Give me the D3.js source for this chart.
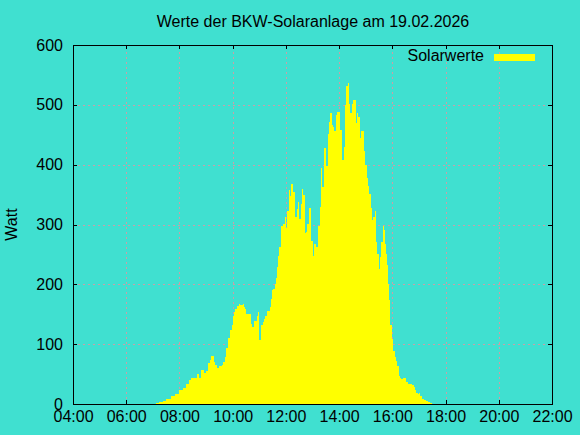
<!DOCTYPE html>
<html>
<head>
<meta charset="utf-8">
<script src="https://cdn.jsdelivr.net/npm/d3@7"></script>
<style>
  body { margin: 0; background: #40e0d0; }
  svg { display: block; font-family: "Liberation Sans", Arial, sans-serif; }
</style>
</head>
<body>
<div id="chart"></div>
<script>
// Messzeitpunkte und Leistung (Watt)
const times = ["07:07","07:15","07:22","07:30","07:42","07:51","07:58","08:07","08:15","08:22",
    "08:26","08:39","08:43","08:49","08:55","08:59","09:04","09:08","09:12","09:17",
    "09:20","09:25","09:30","09:36","09:39","09:43","09:45","09:50","09:55","09:59",
    "10:01","10:03","10:06","10:09","10:15","10:17","10:23","10:25","10:27","10:30",
    "10:41","10:44","10:47","10:55","10:57","11:00","11:03","11:05","11:08","11:11",
    "11:14","11:17","11:24","11:27","11:29","11:32","11:35","11:37","11:40","11:43",
    "11:45","11:48","11:50","11:54","11:57","11:59","12:01","12:03","12:06","12:08",
    "12:10","12:12","12:17","12:21","12:26","12:28","12:30","12:33","12:35","12:37",
    "12:39","12:42","12:44","12:46","12:48","12:51","12:57","13:00","13:02","13:04",
    "13:08","13:13","13:18","13:20","13:22","13:25","13:27","13:31","13:34","13:36",
    "13:38","13:40","13:43","13:45","13:47","13:49","13:52","13:54","13:56","14:01",
    "14:03","14:07","14:10","14:12","14:14","14:16","14:19","14:21","14:23","14:25",
    "14:28","14:32","14:37","14:39","14:41","14:43","14:46","14:48","14:50","14:57",
    "14:59","15:02","15:04","15:06","15:08","15:11","15:13","15:15","15:17","15:20",
    "15:24","15:26","15:29","15:33","15:35","15:38","15:42","15:44","15:46","15:48",
    "15:50","15:53","15:55","16:00","16:02","16:05","16:07","16:09","16:11","16:14",
    "16:16","16:18","16:20","16:23","16:25","16:31","16:35","16:45","16:48","16:50",
    "16:54","16:57","16:59","17:01","17:03","17:07","17:11","17:16","17:20","17:24",
    "17:27","17:30"];

const watts = [1,3,5,8,13,17,23,27,33,40,
    43,50,44,57,51,55,69,74,80,70,
    65,61,63,65,70,79,94,110,123,132,
    147,154,158,163,167,165,167,162,158,150,
    133,129,138,147,154,107,97,132,137,142,
    147,156,162,175,191,192,200,211,229,247,
    263,274,298,301,308,312,294,323,340,357,
    348,367,355,312,326,338,309,282,334,359,
    350,321,286,288,301,328,273,257,248,268,
    262,297,330,394,362,425,428,398,411,451,
    471,486,469,467,463,457,471,483,488,457,
    458,407,421,430,500,532,534,536,501,487,
    502,508,471,469,486,480,459,444,457,423,
    400,391,378,365,351,338,328,308,312,323,
    271,251,226,246,271,297,290,267,251,232,
    201,173,132,109,88,85,78,72,63,57,
    47,43,42,43,44,37,34,32,28,23,
    19,16,12,18,14,9,7,5,4,2,
    1,0];

const xTicks = ["04:00","06:00","08:00","10:00","12:00","14:00","16:00","18:00","20:00","22:00"];
const yTicks = [0, 100, 200, 300, 400, 500, 600];

const title = "Werte der BKW-Solaranlage am 19.02.2026";
const seriesName = "Solarwerte";

const parseTime = d3.timeParse("%H:%M");
const data = times.map((t, i) => ({t: parseTime(t), w: watts[i]}));

const width = 580, height = 435;
const plot = {left: 73, right: 552, top: 45, bottom: 404};
const gridColor = "#c8a0a8";

const svg = d3.select("#chart")
    .append("svg")
    .attr("width", width)
    .attr("height", height);

svg.append("rect")
    .attr("width", width)
    .attr("height", height)
    .attr("fill", "#40e0d0");

const x = d3.scaleTime()
    .domain([parseTime(xTicks[0]), parseTime(xTicks[xTicks.length - 1])])
    .range([plot.left, plot.right]);

const y = d3.scaleLinear()
    .domain([0, 600])
    .range([plot.bottom, plot.top]);

const xTickVals = xTicks.map(parseTime);
const fmt = d3.timeFormat("%H:%M");

// Gitter
svg.append("g")
    .attr("class", "grid")
    .attr("transform", `translate(0,${plot.bottom})`)
    .call(d3.axisBottom(x).tickValues(xTickVals).tickSize(-(plot.bottom - plot.top)).tickFormat(""))
    .call(g => g.select(".domain").remove());

svg.append("g")
    .attr("class", "grid")
    .attr("transform", `translate(${plot.left},0)`)
    .call(d3.axisLeft(y).tickValues(yTicks).tickSize(-(plot.right - plot.left)).tickFormat(""))
    .call(g => g.select(".domain").remove());

svg.selectAll(".grid line")
    .attr("stroke", gridColor)
    .attr("stroke-dasharray", "2,3")
    .attr("shape-rendering", "crispEdges");

// Achsen mit nach innen zeigenden Ticks
const xAxis = svg.append("g")
    .attr("transform", `translate(0,${plot.bottom})`)
    .call(d3.axisBottom(x).tickValues(xTickVals).tickFormat(fmt).tickSizeInner(-4).tickSizeOuter(0).tickPadding(7));

const xAxisTop = svg.append("g")
    .attr("transform", `translate(0,${plot.top})`)
    .call(d3.axisTop(x).tickValues(xTickVals).tickFormat("").tickSizeInner(-4).tickSizeOuter(0));

const yAxis = svg.append("g")
    .attr("transform", `translate(${plot.left},0)`)
    .call(d3.axisLeft(y).tickValues(yTicks).tickSizeInner(-4).tickSizeOuter(0).tickPadding(10));

const yAxisRight = svg.append("g")
    .attr("transform", `translate(${plot.right},0)`)
    .call(d3.axisRight(y).tickValues(yTicks).tickFormat("").tickSizeInner(-4).tickSizeOuter(0));

[xAxis, xAxisTop, yAxis, yAxisRight].forEach(g => {
    g.select(".domain").remove();
    g.selectAll("line").attr("stroke", "#000").attr("shape-rendering", "crispEdges");
    g.selectAll("text")
        .attr("fill", "#000")
        .style("font-size", "16px")
        .style("font-family", "'Liberation Sans', Arial, sans-serif");
});

// Flaeche der Solarwerte
const area = d3.area()
    .curve(d3.curveStepAfter)
    .x(d => x(d.t))
    .y0(y(0) + 0.5)
    .y1(d => y(d.w));

svg.append("path")
    .datum(data)
    .attr("fill", "#ffff00")
    .attr("shape-rendering", "crispEdges")
    .attr("d", area);

// Rahmen
svg.append("rect")
    .attr("x", plot.left + 0.5)
    .attr("y", plot.top + 0.5)
    .attr("width", plot.right - plot.left)
    .attr("height", plot.bottom - plot.top)
    .attr("fill", "none")
    .attr("stroke", "#000")
    .attr("shape-rendering", "crispEdges");

// Titel
svg.append("text")
    .attr("x", (plot.left + plot.right) / 2 + 0.5)
    .attr("y", 27)
    .attr("text-anchor", "middle")
    .style("font-size", "16px")
    .text(title);

// Y-Achsenbeschriftung
svg.append("text")
    .attr("transform", `translate(17,${(plot.top + plot.bottom) / 2}) rotate(-90)`)
    .attr("text-anchor", "middle")
    .style("font-size", "16px")
    .text("Watt");

// Legende
svg.append("text")
    .attr("x", 484)
    .attr("y", 61)
    .attr("text-anchor", "end")
    .style("font-size", "16px")
    .text(seriesName);

svg.append("rect")
    .attr("x", 494)
    .attr("y", 54)
    .attr("width", 41)
    .attr("height", 7)
    .attr("fill", "#ffff00");
</script>
</body>
</html>
